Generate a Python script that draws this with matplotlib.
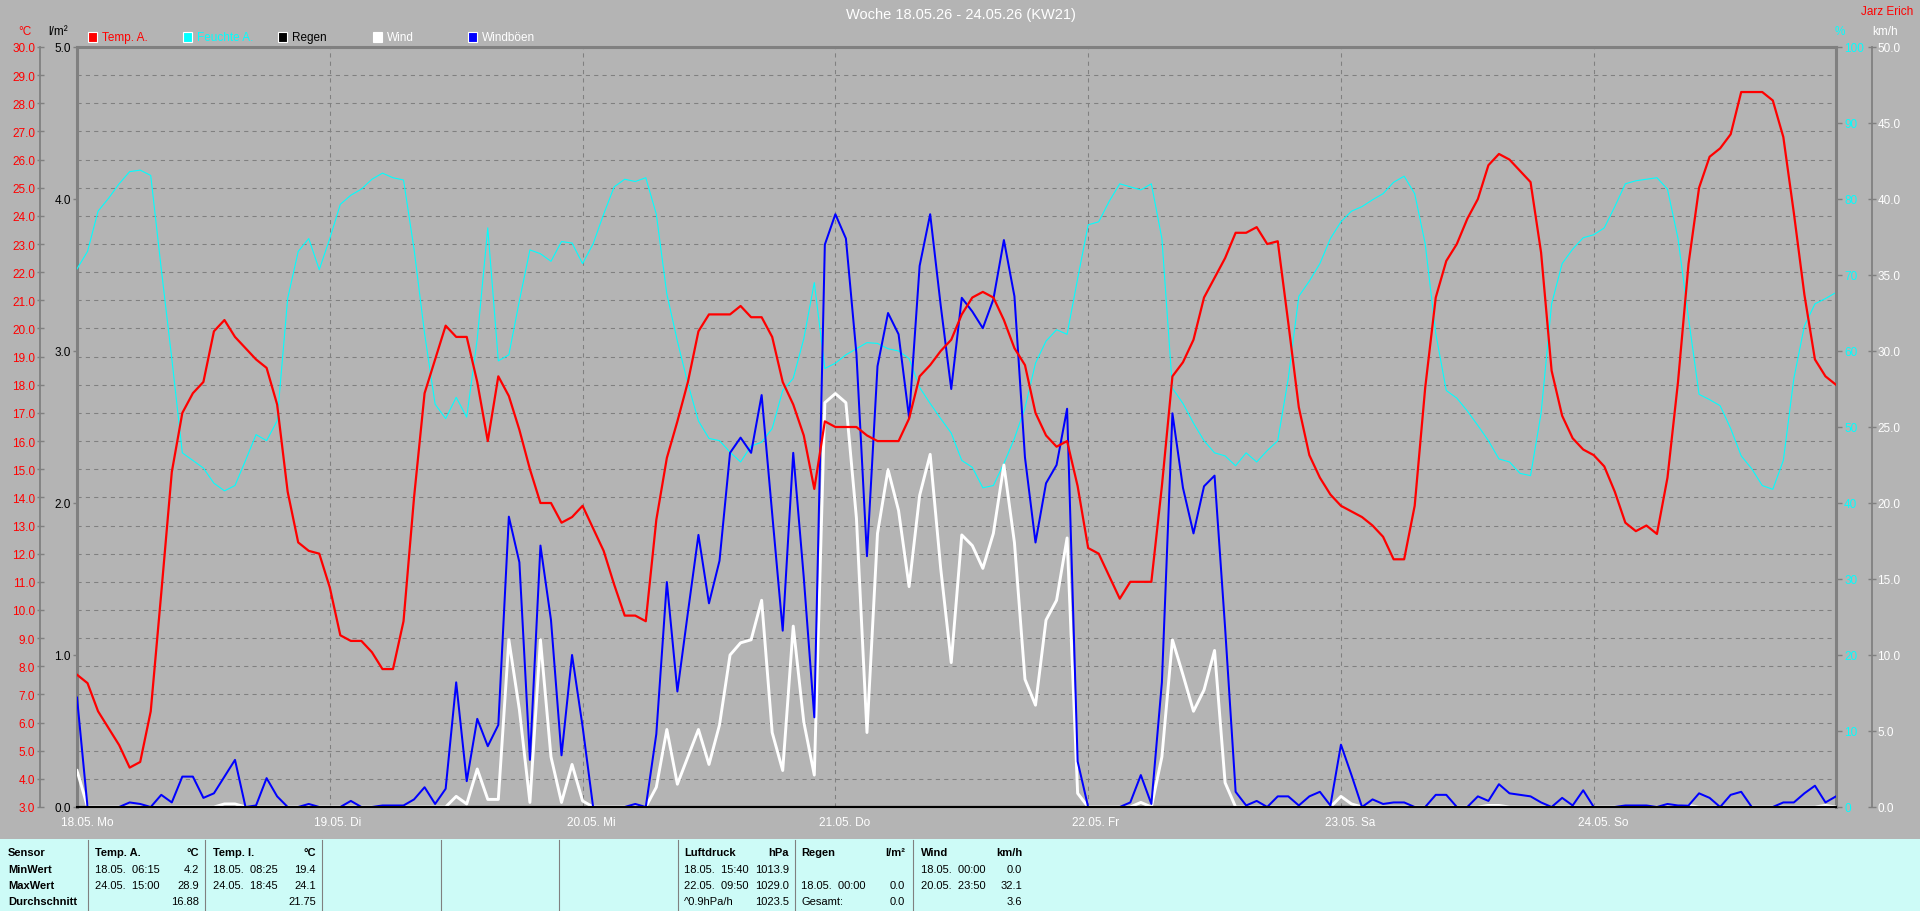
import numpy as np
import matplotlib
matplotlib.use("Agg")
import matplotlib.pyplot as plt
from matplotlib.patches import Rectangle
from matplotlib.lines import Line2D
import matplotlib.transforms as mtransforms
from matplotlib import font_manager

_names = {f.name for f in font_manager.fontManager.ttflist}
if 'Liberation Sans Narrow' in _names:
    plt.rcParams['font.family'] = ['Liberation Sans Narrow', 'DejaVu Sans']
    TABLE_FS = 8.5
else:
    plt.rcParams['font.family'] = ['Liberation Sans', 'DejaVu Sans']
    TABLE_FS = 8.0

# ---------------- data (hourly, 18.05. 00:00 ... 24.05. 23:00) ----------------
day_labels = ['18.05. Mo', '19.05. Di', '20.05. Mi', '21.05. Do', '22.05. Fr', '23.05. Sa', '24.05. So']

temp_a = [
    7.7, 7.4, 6.4, 5.8, 5.2, 4.4, 4.6, 6.4, 10.6, 14.9, 17.0, 17.7, 18.1, 19.9, 20.3, 19.7, 19.3, 18.9, 18.6, 17.3, 14.2, 12.4, 12.1, 12.0,
    10.8, 9.1, 8.9, 8.9, 8.5, 7.9, 7.9, 9.6, 14.0, 17.7, 18.9, 20.1, 19.7, 19.7, 18.1, 16.0, 18.3, 17.6, 16.4, 15.0, 13.8, 13.8, 13.1, 13.3,
    13.7, 12.9, 12.1, 10.9, 9.8, 9.8, 9.6, 13.2, 15.4, 16.7, 18.1, 19.9, 20.5, 20.5, 20.5, 20.8, 20.4, 20.4, 19.7, 18.1, 17.3, 16.2, 14.3, 16.7,
    16.5, 16.5, 16.5, 16.2, 16.0, 16.0, 16.0, 16.8, 18.3, 18.7, 19.2, 19.6, 20.5, 21.1, 21.3, 21.1, 20.3, 19.3, 18.7, 17.0, 16.2, 15.8, 16.0, 14.4,
    12.2, 12.0, 11.2, 10.4, 11.0, 11.0, 11.0, 14.4, 18.3, 18.8, 19.6, 21.1, 21.8, 22.5, 23.4, 23.4, 23.6, 23.0, 23.1, 20.2, 17.2, 15.5, 14.7, 14.1,
    13.7, 13.5, 13.3, 13.0, 12.6, 11.8, 11.8, 13.7, 17.9, 21.1, 22.4, 23.0, 23.9, 24.6, 25.8, 26.2, 26.0, 25.6, 25.2, 22.7, 18.5, 16.9, 16.1, 15.7,
    15.5, 15.1, 14.2, 13.1, 12.8, 13.0, 12.7, 14.7, 18.1, 22.3, 25.0, 26.1, 26.4, 26.9, 28.4, 28.4, 28.4, 28.1, 26.8, 24.1, 21.2, 18.9, 18.3, 18.0,
]

feuchte_a = [
    70.8, 73.1, 78.4, 80.1, 82.0, 83.6, 83.8, 83.1, 70.8, 59.0, 46.6, 45.6, 44.6, 42.6, 41.6, 42.3, 45.6, 49.0, 48.2, 50.8, 66.9, 73.1, 74.8, 70.7,
    74.8, 79.3, 80.5, 81.3, 82.6, 83.4, 82.8, 82.5, 73.4, 62.3, 53.0, 51.1, 53.9, 51.3, 61.6, 76.2, 58.7, 59.5, 66.6, 73.3, 72.8, 71.8, 74.4, 74.2,
    71.5, 74.1, 78.0, 81.6, 82.6, 82.3, 82.8, 78.0, 67.5, 61.3, 55.7, 50.8, 48.5, 48.2, 46.7, 45.4, 47.5, 48.0, 49.8, 54.8, 56.4, 61.6, 69.0, 57.7,
    58.4, 59.5, 60.3, 61.1, 61.0, 60.3, 60.0, 59.0, 55.2, 53.1, 51.1, 49.2, 45.6, 44.7, 42.0, 42.3, 45.2, 48.5, 52.5, 58.4, 61.3, 62.8, 62.2, 69.5,
    76.6, 77.0, 79.7, 82.0, 81.6, 81.2, 82.0, 74.8, 55.1, 53.1, 50.5, 48.2, 46.6, 46.2, 44.9, 46.6, 45.4, 46.9, 48.2, 56.4, 67.2, 69.2, 71.5, 74.8,
    77.0, 78.4, 79.0, 79.9, 80.7, 82.2, 83.0, 80.7, 74.1, 62.3, 54.8, 53.8, 52.1, 50.2, 48.2, 45.8, 45.4, 43.9, 43.6, 51.8, 66.2, 71.5, 73.4, 74.9,
    75.3, 76.2, 79.0, 82.0, 82.4, 82.6, 82.8, 81.3, 74.8, 64.3, 54.3, 53.6, 52.8, 49.8, 46.2, 44.5, 42.3, 41.8, 45.6, 56.4, 63.3, 66.2, 66.9, 67.7,
]

regen = [
    0.0, 0.0, 0.0, 0.0, 0.0, 0.0, 0.0, 0.0, 0.0, 0.0, 0.0, 0.0, 0.0, 0.0, 0.0, 0.0, 0.0, 0.0, 0.0, 0.0, 0.0, 0.0, 0.0, 0.0,
    0.0, 0.0, 0.0, 0.0, 0.0, 0.0, 0.0, 0.0, 0.0, 0.0, 0.0, 0.0, 0.0, 0.0, 0.0, 0.0, 0.0, 0.0, 0.0, 0.0, 0.0, 0.0, 0.0, 0.0,
    0.0, 0.0, 0.0, 0.0, 0.0, 0.0, 0.0, 0.0, 0.0, 0.0, 0.0, 0.0, 0.0, 0.0, 0.0, 0.0, 0.0, 0.0, 0.0, 0.0, 0.0, 0.0, 0.0, 0.0,
    0.0, 0.0, 0.0, 0.0, 0.0, 0.0, 0.0, 0.0, 0.0, 0.0, 0.0, 0.0, 0.0, 0.0, 0.0, 0.0, 0.0, 0.0, 0.0, 0.0, 0.0, 0.0, 0.0, 0.0,
    0.0, 0.0, 0.0, 0.0, 0.0, 0.0, 0.0, 0.0, 0.0, 0.0, 0.0, 0.0, 0.0, 0.0, 0.0, 0.0, 0.0, 0.0, 0.0, 0.0, 0.0, 0.0, 0.0, 0.0,
    0.0, 0.0, 0.0, 0.0, 0.0, 0.0, 0.0, 0.0, 0.0, 0.0, 0.0, 0.0, 0.0, 0.0, 0.0, 0.0, 0.0, 0.0, 0.0, 0.0, 0.0, 0.0, 0.0, 0.0,
    0.0, 0.0, 0.0, 0.0, 0.0, 0.0, 0.0, 0.0, 0.0, 0.0, 0.0, 0.0, 0.0, 0.0, 0.0, 0.0, 0.0, 0.0, 0.0, 0.0, 0.0, 0.0, 0.0, 0.0,
]

wind = [
    2.4, 0.0, 0.0, 0.0, 0.0, 0.0, 0.0, 0.0, 0.0, 0.0, 0.0, 0.0, 0.0, 0.0, 0.2, 0.2, 0.0, 0.0, 0.0, 0.0, 0.0, 0.0, 0.0, 0.0,
    0.0, 0.0, 0.0, 0.0, 0.0, 0.0, 0.0, 0.0, 0.0, 0.0, 0.0, 0.0, 0.7, 0.2, 2.5, 0.5, 0.5, 11.0, 6.4, 0.3, 11.0, 3.3, 0.3, 2.8,
    0.4, 0.0, 0.0, 0.0, 0.0, 0.0, 0.0, 1.3, 5.1, 1.5, 3.3, 5.1, 2.8, 5.4, 10.0, 10.8, 11.0, 13.6, 4.9, 2.4, 11.9, 5.6, 2.1, 26.6,
    27.2, 26.6, 19.0, 4.9, 18.0, 22.2, 19.5, 14.5, 20.5, 23.2, 15.7, 9.5, 17.9, 17.2, 15.7, 18.0, 22.5, 17.4, 8.4, 6.7, 12.3, 13.6, 17.7, 0.9,
    0.0, 0.0, 0.0, 0.0, 0.0, 0.3, 0.0, 3.3, 11.0, 8.7, 6.3, 7.7, 10.3, 1.6, 0.0, 0.0, 0.0, 0.0, 0.0, 0.0, 0.0, 0.0, 0.0, 0.0,
    0.7, 0.2, 0.0, 0.0, 0.0, 0.0, 0.0, 0.0, 0.0, 0.0, 0.0, 0.0, 0.0, 0.0, 0.1, 0.1, 0.0, 0.0, 0.0, 0.0, 0.0, 0.0, 0.0, 0.0,
    0.0, 0.0, 0.0, 0.0, 0.0, 0.0, 0.0, 0.0, 0.0, 0.1, 0.0, 0.0, 0.0, 0.0, 0.0, 0.0, 0.0, 0.0, 0.0, 0.0, 0.0, 0.0, 0.1, 0.0,
]

windboeen = [
    7.2, 0.0, 0.0, 0.0, 0.0, 0.3, 0.2, 0.0, 0.8, 0.3, 2.0, 2.0, 0.6, 0.9, 2.0, 3.1, 0.0, 0.1, 1.9, 0.7, 0.0, 0.0, 0.2, 0.0,
    0.0, 0.0, 0.4, 0.0, 0.0, 0.1, 0.1, 0.1, 0.5, 1.3, 0.2, 1.2, 8.2, 1.7, 5.8, 4.0, 5.4, 19.1, 16.1, 3.1, 17.2, 12.3, 3.4, 10.0,
    5.3, 0.0, 0.0, 0.0, 0.0, 0.2, 0.0, 4.8, 14.8, 7.6, 12.8, 17.9, 13.4, 16.2, 23.3, 24.3, 23.3, 27.1, 19.3, 11.6, 23.3, 15.1, 5.9, 37.0,
    39.0, 37.4, 29.8, 16.5, 29.0, 32.5, 31.1, 25.6, 35.6, 39.0, 33.0, 27.5, 33.5, 32.6, 31.5, 33.4, 37.3, 33.6, 23.0, 17.4, 21.3, 22.5, 26.2, 3.0,
    0.0, 0.0, 0.0, 0.0, 0.3, 2.1, 0.2, 8.2, 25.9, 21.0, 18.0, 21.1, 21.8, 11.8, 1.0, 0.1, 0.4, 0.0, 0.7, 0.7, 0.1, 0.7, 1.0, 0.1,
    4.1, 2.1, 0.0, 0.5, 0.2, 0.3, 0.3, 0.0, 0.0, 0.8, 0.8, 0.0, 0.0, 0.7, 0.4, 1.5, 0.9, 0.8, 0.7, 0.3, 0.0, 0.6, 0.1, 1.1,
    0.0, 0.0, 0.0, 0.1, 0.1, 0.1, 0.0, 0.2, 0.1, 0.1, 0.9, 0.6, 0.0, 0.8, 1.0, 0.0, 0.0, 0.0, 0.3, 0.3, 0.9, 1.4, 0.3, 0.7,
]

hours = np.arange(len(temp_a))

# summary table texts
table_rows = [
    # (x_px, row, text, align, bold)
    (8, 0, 'Sensor', 'left', True), (8, 1, 'MinWert', 'left', True),
    (8, 2, 'MaxWert', 'left', True), (8, 3, 'Durchschnitt', 'left', True),
    (95, 0, 'Temp. A.', 'left', True), (199, 0, '°C', 'right', True),
    (95, 1, '18.05.  06:15', 'left', False), (199, 1, '4.2', 'right', False),
    (95, 2, '24.05.  15:00', 'left', False), (199, 2, '28.9', 'right', False),
    (199, 3, '16.88', 'right', False),
    (213, 0, 'Temp. I.', 'left', True), (316, 0, '°C', 'right', True),
    (213, 1, '18.05.  08:25', 'left', False), (316, 1, '19.4', 'right', False),
    (213, 2, '24.05.  18:45', 'left', False), (316, 2, '24.1', 'right', False),
    (316, 3, '21.75', 'right', False),
    (684, 0, 'Luftdruck', 'left', True), (789, 0, 'hPa', 'right', True),
    (684, 1, '18.05.  15:40', 'left', False), (789, 1, '1013.9', 'right', False),
    (684, 2, '22.05.  09:50', 'left', False), (789, 2, '1029.0', 'right', False),
    (684, 3, '^0.9hPa/h', 'left', False), (789, 3, '1023.5', 'right', False),
    (801, 0, 'Regen', 'left', True), (905, 0, 'l/m²', 'right', True),
    (801, 2, '18.05.  00:00', 'left', False), (905, 2, '0.0', 'right', False),
    (801, 3, 'Gesamt:', 'left', False), (905, 3, '0.0', 'right', False),
    (921, 0, 'Wind', 'left', True), (1022, 0, 'km/h', 'right', True),
    (921, 1, '18.05.  00:00', 'left', False), (1022, 1, '0.0', 'right', False),
    (921, 2, '20.05.  23:50', 'left', False), (1022, 2, '32.1', 'right', False),
    (1022, 3, '3.6', 'right', False),
]
table_sep_x = [88, 205, 322, 441, 559, 678, 795, 913]
table_row_y = [853, 870, 886, 902]

legend_items = [('Temp. A.', '#ff0000', '#ff0000'), ('Feuchte A.', '#00ffff', '#00ffff'),
                ('Regen', '#000000', '#000000'), ('Wind', '#ffffff', '#ffffff'),
                ('Windböen', '#0000ff', '#ffffff')]

# ---------------- figure ----------------
W, H = 1920, 912
BG = '#b4b4b4'
GRID = '#808080'
fig = plt.figure(figsize=(W / 100, H / 100), dpi=100, facecolor=BG)

def fx(x):
    return x / W

def fy(y):
    return 1 - y / H

PT = 72 / 100  # points per pixel
L, R, T, B = 77, 1836, 48, 808
rect = [fx(L), fy(B), (R - L) / W, (B - T) / H]

# background / grid / °C axis
ax_bg = fig.add_axes(rect)
ax_bg.set_facecolor(BG)
ax_bg.set_xlim(0, hours[-1])
ax_bg.set_ylim(3, 30)
ax_bg.set_yticks(np.arange(3, 31, 1))
ax_bg.set_yticklabels([f'{v:.1f}' for v in np.arange(3, 31, 1)])
ax_bg.set_xticks(np.arange(0, len(hours), 24))
ax_bg.set_xticklabels([])
ax_bg.tick_params(axis='x', length=0)
ax_bg.tick_params(axis='y', direction='inout', length=7 * PT, width=1, color=GRID,
                  labelcolor='#ff0000', labelsize=8.5, pad=1)
ax_bg.grid(True, color=GRID, linestyle=(0, (4, 4)), linewidth=0.75)
for s in ['right', 'bottom']:
    ax_bg.spines[s].set_visible(False)
ax_bg.spines['left'].set_position(('outward', (L - 40) * PT))
ax_bg.spines['left'].set_color(GRID)
ax_bg.spines['left'].set_linewidth(1.3)
ax_bg.spines['top'].set_color(GRID)
ax_bg.spines['top'].set_linewidth(2.2)

# day labels
trans = mtransforms.blended_transform_factory(ax_bg.transData, ax_bg.transAxes) + \
    mtransforms.ScaledTranslation(-16 / 100, -15 / 100, fig.dpi_scale_trans)
for d, lbl in zip(np.arange(0, len(hours), 24), day_labels):
    ax_bg.text(d, 0, lbl, transform=trans, ha='left', va='center', color='white', fontsize=8.5)

# rain axis (l/m²)
ax_rain = ax_bg.twinx()
ax_rain.set_ylim(0, 5)
ax_rain.yaxis.tick_left()
ax_rain.set_yticks(np.arange(0, 6, 1))
ax_rain.set_yticklabels([f'{v:.1f}' for v in np.arange(0, 6, 1)])
ax_rain.tick_params(axis='y', direction='out', length=4 * PT, width=1, color=GRID,
                    labelcolor='black', labelsize=8.5, pad=1.5)
for s in ['right', 'top', 'bottom']:
    ax_rain.spines[s].set_visible(False)
ax_rain.spines['left'].set_color(GRID)
ax_rain.spines['left'].set_linewidth(2.2)
ax_rain.plot(hours, regen, color='black', linewidth=1.5)

# humidity axis (%)
ax_hum = ax_bg.twinx()
ax_hum.set_ylim(0, 100)
ax_hum.set_yticks(np.arange(0, 101, 10))
ax_hum.set_yticklabels([f'{v:d}' for v in np.arange(0, 101, 10)])
ax_hum.tick_params(axis='y', direction='out', length=6 * PT, width=1, color=GRID,
                   labelcolor='#00ffff', labelsize=8.5, pad=1.5)
for s in ['left', 'top', 'bottom']:
    ax_hum.spines[s].set_visible(False)
ax_hum.spines['right'].set_color(GRID)
ax_hum.spines['right'].set_linewidth(2.2)
ax_hum.plot(hours, feuchte_a, color='#00ffff', linewidth=0.8)

# wind axis (km/h)
ax_wind = ax_bg.twinx()
ax_wind.set_ylim(0, 50)
ax_wind.set_yticks(np.arange(0, 51, 5))
ax_wind.set_yticklabels([f'{v:.1f}' for v in np.arange(0, 51, 5)])
ax_wind.tick_params(axis='y', direction='inout', length=8 * PT, width=1, color=GRID,
                    labelcolor='white', labelsize=8.5, pad=1)
for s in ['left', 'top', 'bottom']:
    ax_wind.spines[s].set_visible(False)
ax_wind.spines['right'].set_position(('outward', (1872 - R) * PT))
ax_wind.spines['right'].set_color(GRID)
ax_wind.spines['right'].set_linewidth(1.3)
ax_wind.plot(hours, wind, color='white', linewidth=2.1)
ax_wind.plot(hours, windboeen, color='#0000ff', linewidth=1.45)

# temperature on top
ax_t = ax_bg.twinx()
ax_t.set_ylim(3, 30)
ax_t.set_yticks([])
for s in ['left', 'top', 'right']:
    ax_t.spines[s].set_visible(False)
ax_t.spines['bottom'].set_color('black')
ax_t.spines['bottom'].set_linewidth(1.5)
ax_t.plot(hours, temp_a, color='#ff0000', linewidth=1.6)

# axis unit labels, title, author
fig.text(fx(25), fy(32), '°C', color='#ff0000', fontsize=8.5, ha='center', va='center')
fig.text(fx(58), fy(32), 'l/m²', color='black', fontsize=8.5, ha='center', va='center')
fig.text(fx(1840), fy(32), '%', color='#00ffff', fontsize=8.5, ha='center', va='center')
fig.text(fx(1885), fy(32), 'km/h', color='white', fontsize=8.5, ha='center', va='center')
fig.text(fx(1913), fy(12), 'Jarz Erich', color='#ff0000', fontsize=8.5, ha='right', va='center')
fig.text(fx(961), fy(15), 'Woche 18.05.26 - 24.05.26 (KW21)', color='white', fontsize=10.5,
         ha='center', va='center')

# legend
for i, (name, col, tcol) in enumerate(legend_items):
    x0 = 87.5 + 95 * i
    fig.patches.append(Rectangle((fx(x0), fy(43)), 9 / W, 10 / H, transform=fig.transFigure,
                                 facecolor=col, edgecolor='white', linewidth=0.8))
    fig.text(fx(x0 + 14.5), fy(38), name, color=tcol, fontsize=8.5, ha='left', va='center')

# summary table
fig.patches.append(Rectangle((0, 0), 1, fy(840), transform=fig.transFigure,
                             facecolor='#cdfbf7', edgecolor='none'))
for xs in table_sep_x:
    fig.lines.append(Line2D([fx(xs), fx(xs)], [fy(841), 0], transform=fig.transFigure,
                            color=GRID, linewidth=0.8))
for x, r, txt, ha, bold in table_rows:
    fig.text(fx(x), fy(table_row_y[r]), txt, ha=ha, va='center', color='black', fontsize=TABLE_FS,
             fontweight='bold' if bold else 'normal')

fig.savefig('out.png', dpi=100, facecolor=BG)
